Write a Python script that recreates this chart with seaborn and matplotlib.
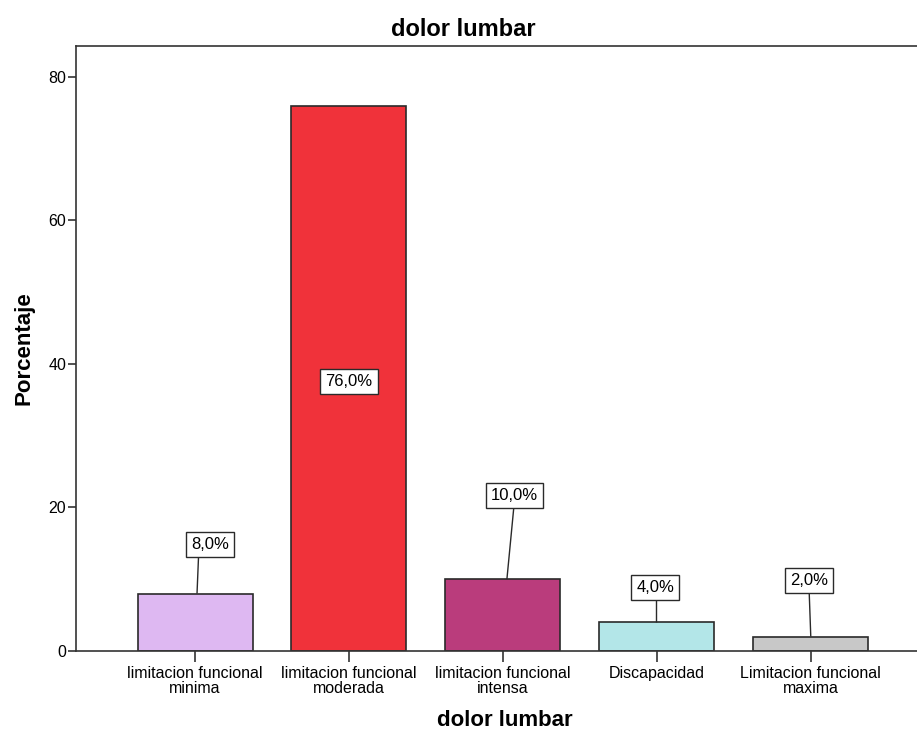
import matplotlib
matplotlib.use("Agg")
import matplotlib.pyplot as plt
import seaborn as sns
import pandas as pd

categorias = [
    "limitacion funcional\nminima",
    "limitacion funcional\nmoderada",
    "limitacion funcional\nintensa",
    "Discapacidad",
    "Limitacion funcional\nmaxima",
]
porcentajes = [8.0, 76.0, 10.0, 4.0, 2.0]
colores = ["#DEB8F2", "#F0323A", "#BA3C7C", "#B3E6E8", "#C8C8C8"]

# value label placement: box centre (x offset in category units, y in data units)
etiqueta_dx = [0.10, 0.0, 0.075, -0.01, -0.01]
etiqueta_y = [14.8, 37.6, 21.6, 8.9, 9.8]
# leader line x offsets at the bar top and under the box
linea_base_dx = [0.013, 0.0, 0.026, -0.006, 0.0]
linea_punta_dx = [0.026, 0.0, 0.078, -0.006, -0.013]

sns.set_style("white")
plt.rcParams["font.family"] = ["Liberation Sans", "DejaVu Sans"]
plt.rcParams["text.color"] = "black"
plt.rcParams["axes.labelcolor"] = "black"
plt.rcParams["xtick.color"] = "black"
plt.rcParams["ytick.color"] = "black"

df = pd.DataFrame({"cat": categorias, "pct": porcentajes})

fig = plt.figure(figsize=(9.17, 7.34), dpi=100)
ax = fig.add_axes([0.0829, 0.1131, 0.9171, 0.8242])

sns.barplot(data=df, x="cat", y="pct", hue="cat", palette=colores,
            order=categorias, hue_order=categorias, legend=False,
            width=0.747, edgecolor="#2a2a2a", linewidth=1.2, saturation=1,
            ax=ax)

ax.set_xlim(-0.773, 4.69)
ax.set_ylim(0, 84.3)
ax.set_yticks([0, 20, 40, 60, 80])

for s in ["left", "top", "bottom"]:
    ax.spines[s].set_visible(True)
    ax.spines[s].set_color("#333333")
    ax.spines[s].set_linewidth(1.2)
ax.spines["right"].set_visible(False)

ax.tick_params(axis="y", which="both", left=True, length=6, width=1.2,
               color="#333333", labelsize=11.5, pad=1)
ax.tick_params(axis="x", which="both", bottom=True, length=8, width=1.2,
               color="#333333", labelsize=11.5, pad=3)
for lab in ax.get_xticklabels():
    lab.set_multialignment("center")
    lab.set_linespacing(1.0)

ax.set_xlabel("dolor lumbar", fontsize=16, fontweight="bold")
ax.xaxis.set_label_coords(0.510, -0.098)
ax.set_ylabel("Porcentaje", fontsize=16, fontweight="bold", labelpad=10)
fig.text(0.505, 0.96, "dolor lumbar", ha="center", va="center",
         fontsize=17, fontweight="bold")

caja = dict(boxstyle="square,pad=0.3", fc="white", ec="#2a2a2a", lw=1.0)
for i, v in enumerate(porcentajes):
    texto = f"{v:.1f}%".replace(".", ",")
    if i != 1:
        ax.plot([i + linea_base_dx[i], i + linea_punta_dx[i]], [v, etiqueta_y[i]],
                color="#2a2a2a", lw=1.0, zorder=2.5, solid_capstyle="butt")
    ax.text(i + etiqueta_dx[i], etiqueta_y[i], texto, ha="center", va="center",
            fontsize=12, bbox=caja, zorder=4)

fig.savefig("out.png", dpi=100)
